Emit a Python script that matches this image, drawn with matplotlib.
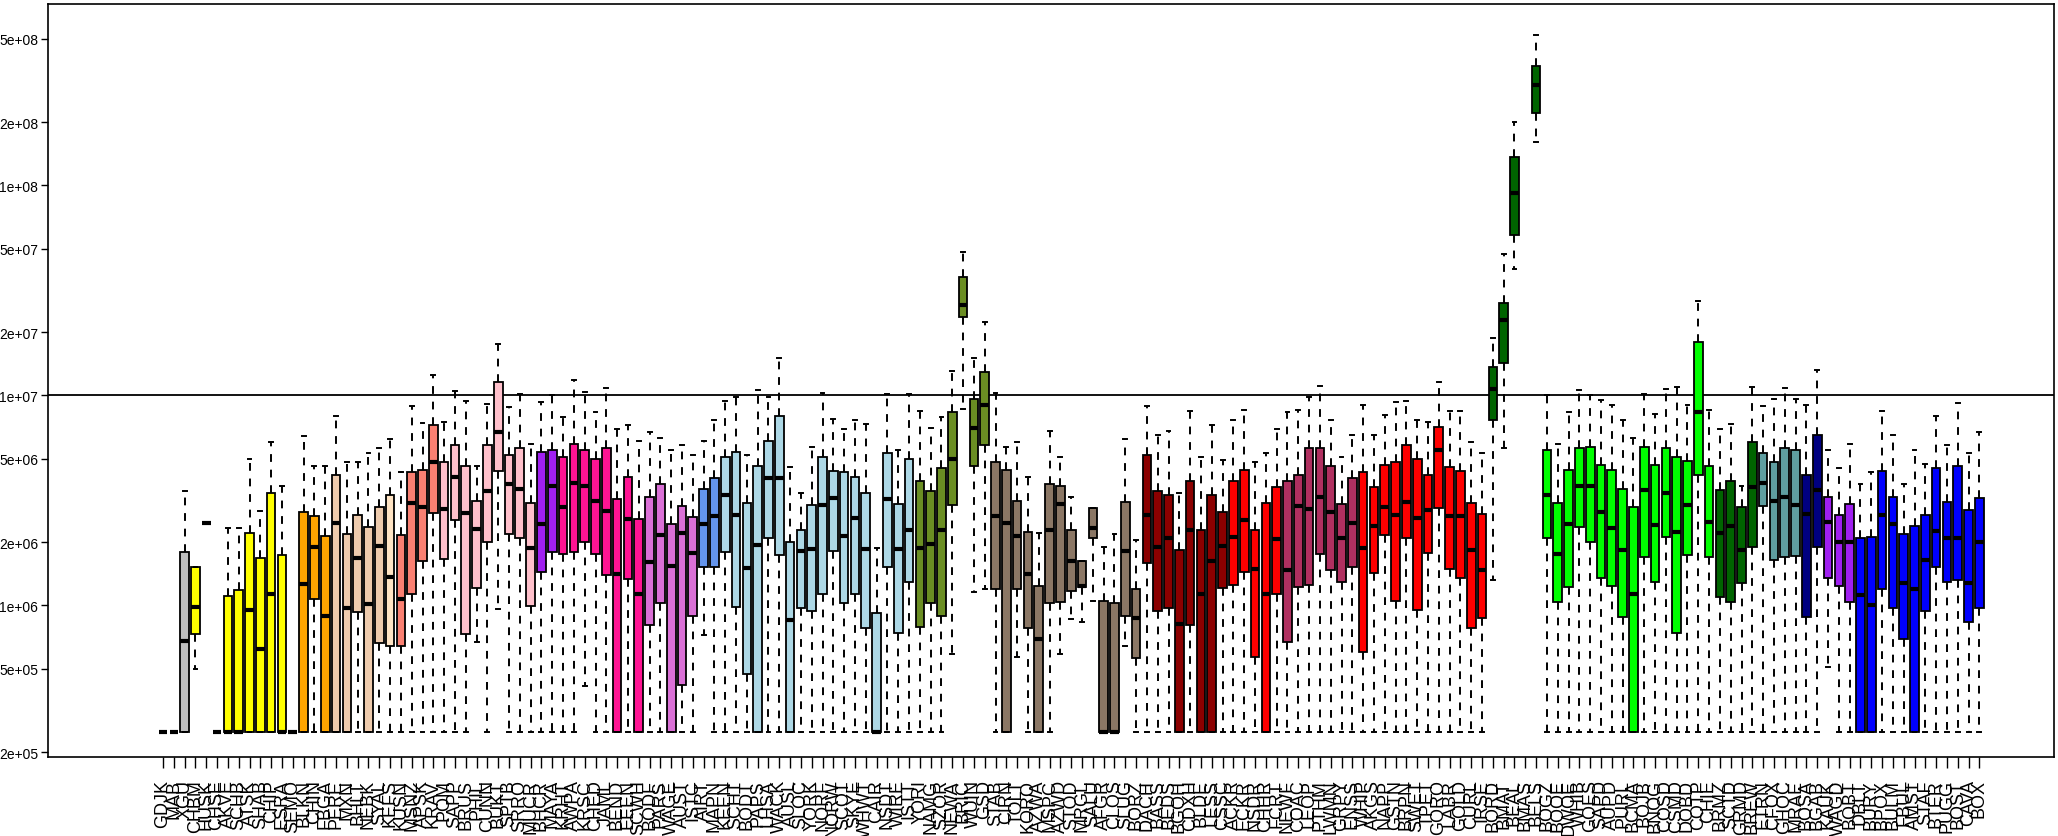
import numpy as np
import matplotlib.pyplot as plt
from matplotlib.ticker import FixedLocator, FuncFormatter, NullLocator

plt.rcParams['font.family'] = ['Liberation Sans', 'DejaVu Sans']

labels = [
    "GDJK", "MAB", "XGU", "CHBM", "HUSK", "CHSE", "AKVE", "SCHB", "ATSK", "SHAB",
    "CHIP", "ESRA", "SEMO", "BLKN", "CHIN", "FBGA", "PERE", "MXN", "BHLT", "NEBK",
    "SYAL", "KEFS", "KUSN", "MSNZ", "APSK", "KRAV", "POM", "SAPP", "BRUS", "PHIL",
    "CUNN", "BUKT", "SPTB", "SRRO", "MUCR", "BHCR", "MAYA", "KRHT", "AWPA", "KRSC",
    "CHED", "JAML", "BEND", "EEEN", "SCWH", "BODF", "PARS", "WAGE", "AUST", "ISTC",
    "AIRT", "MAPN", "KEEN", "SCHT", "BODT", "PAPS", "LHSA", "WACK", "AUSL", "SLOC",
    "YORK", "NORF", "NORW", "SCOT", "SKYE", "WHWT", "CAIR", "NSDT", "WIRE", "ISTT",
    "YORI", "NAMG", "SZOR", "NEWA", "BRIC", "WUIN", "GSD", "STAB", "CIRN", "TOLT",
    "KORO", "AZWA", "MSPC", "AZWD", "STOD", "MRGL", "SALU", "AFGR", "CLOS", "SLUG",
    "BORZ", "DACH", "BASS", "BEDS", "BGOH", "CDXH", "BLDE", "LESS", "CSSC", "ACKR",
    "ECKR", "NSDR", "CHHR", "FCRT", "NEWF", "COAC", "LEOP", "PTHM", "LWMN", "GRPY",
    "ENSS", "WHIP", "AKGS", "NAPP", "GSTN", "BRPN", "SWET", "TPET", "GORO", "LABR",
    "GOLD", "CURL", "IRSE", "BORD", "BMAT", "BEAL", "BMAS", "BELS", "BOGZ", "BOOE",
    "DWOE", "WHIB", "GOES", "SAPD", "AUPD", "PURL", "BCMA", "BOJB", "BNOG", "COSD",
    "CSMD", "DOBD", "COTP", "CHIE", "BRMZ", "SCTD", "GRMD", "BREW", "ETRN", "CFOX",
    "GHOC", "MRAE", "BOSA", "BGAB", "KAUK", "WAGD", "BOBT", "DBLT", "BURY", "BPOX",
    "BULM", "FBUL", "AMST", "STAF", "BTER", "PUGG", "BOST", "CAVA", "BOX",
]

F = 2.5e5
nan = np.nan

whislo = [
    F, F, F, 5.0e5, 2.46e6, F, F, F, F, F,
    F, F, F, F, F, F, F, F, F, F,
    F, F, F, F, F, F, F, F, F, 6.7e5,
    F, 9.6e5, F, F, F, F, F, F, F, 4.15e5,
    F, F, F, F, F, F, F, F, F, F,
    7.2e5, F, F, F, F, F, F, F, F, F,
    F, F, F, F, F, F, F, F, F, F,
    F, F, F, 5.9e5, 8.6e6, 1.16e6, 1.2e6, F, F, 5.7e5,
    F, F, F, 5.9e5, 8.6e5, 8.3e5, 1.05e6, F, F, 6.4e5,
    F, F, F, F, F, F, F, F, F, F,
    F, F, F, F, F, F, F, F, F, F,
    F, F, F, F, F, F, F, F, F, F,
    F, F, F, 1.32e6, 5.6e6, 4.0e7, nan, 1.6e8, F, F,
    F, F, F, F, F, F, F, F, F, F,
    F, F, F, F, F, F, F, F, F, F,
    F, F, F, F, 5.1e5, F, F, F, F, F,
    F, F, F, F, F, F, F, F, F,
]
q1 = [
    F, F, F, 7.3e5, 2.46e6, F, F, F, F, F,
    F, F, F, F, 1.07e6, F, F, F, 9.3e5, F,
    6.6e5, 6.4e5, 6.4e5, 1.13e6, 1.62e6, 2.75e6, 1.66e6, 2.56e6, 7.3e5, 1.21e6,
    2.0e6, 4.35e6, 2.2e6, 2.1e6, 9.9e5, 1.44e6, 1.8e6, 1.75e6, 1.8e6, 2.0e6,
    1.75e6, 1.39e6, F, 1.34e6, F, 8.1e5, 1.03e6, F, 4.2e5, 8.9e5,
    1.52e6, 1.52e6, 1.8e6, 9.8e5, 4.7e5, F, 2.1e6, 1.74e6, F, 9.7e5,
    9.4e5, 1.13e6, 1.82e6, 1.03e6, 1.13e6, 7.8e5, F, 1.53e6, 7.4e5, 1.3e6,
    7.9e5, 1.03e6, 8.9e5, 3.0e6, 2.37e7, 4.6e6, 5.8e6, 1.2e6, F, 1.2e6,
    7.8e5, F, 1.03e6, 1.04e6, 1.17e6, 1.22e6, 2.1e6, F, F, 8.9e5,
    5.6e5, 1.6e6, 9.4e5, 9.7e5, F, 8.1e5, F, F, 1.21e6, 1.25e6,
    1.44e6, 5.7e5, F, 1.14e6, 6.7e5, 1.23e6, 1.25e6, 1.76e6, 1.48e6, 1.29e6,
    1.52e6, 6.0e5, 1.43e6, 2.17e6, 1.05e6, 2.1e6, 9.5e5, 1.78e6, 2.9e6, 1.49e6,
    1.35e6, 7.8e5, 8.7e5, 7.6e6, 1.43e7, 5.8e7, nan, 2.2e8, 2.1e6, 1.04e6,
    1.22e6, 2.37e6, 2.0e6, 1.35e6, 1.24e6, 8.8e5, F, 1.71e6, 1.3e6, 2.13e6,
    7.4e5, 1.74e6, 4.2e6, 1.7e6, 1.1e6, 1.04e6, 1.28e6, 1.89e6, 2.97e6, 1.64e6,
    1.7e6, 1.72e6, 8.8e5, 1.89e6, 1.35e6, 1.24e6, 1.04e6, F, F, 1.2e6,
    9.7e5, 6.9e5, F, 9.4e5, 1.52e6, 1.3e6, 1.32e6, 8.3e5, 9.7e5,
]
med = [
    F, F, 6.8e5, 9.8e5, 2.46e6, F, F, F, 9.5e5, 6.2e5,
    1.13e6, F, F, 1.26e6, 1.89e6, 8.9e5, 2.47e6, 9.7e5, 1.69e6, 1.02e6,
    1.93e6, 1.37e6, 1.07e6, 3.08e6, 2.93e6, 4.8e6, 2.88e6, 4.1e6, 2.75e6, 2.31e6,
    3.5e6, 6.7e6, 3.8e6, 3.6e6, 1.87e6, 2.43e6, 3.7e6, 2.95e6, 3.85e6, 3.7e6,
    3.15e6, 2.83e6, 1.41e6, 2.58e6, 1.14e6, 1.61e6, 2.17e6, 1.55e6, 2.21e6, 1.78e6,
    2.45e6, 2.67e6, 3.36e6, 2.7e6, 1.5e6, 1.94e6, 4.05e6, 4.05e6, 8.5e5, 1.82e6,
    1.86e6, 3.0e6, 3.25e6, 2.15e6, 2.6e6, 1.86e6, F, 3.2e6, 1.86e6, 2.3e6,
    1.87e6, 1.97e6, 2.28e6, 5.0e6, 2.7e7, 7.0e6, 9.0e6, 2.67e6, 2.46e6, 2.15e6,
    1.41e6, 6.9e5, 2.3e6, 3.05e6, 1.62e6, 1.24e6, 2.35e6, F, F, 1.82e6,
    8.7e5, 2.7e6, 1.9e6, 2.1e6, 8.2e5, 2.3e6, 1.14e6, 1.62e6, 1.93e6, 2.13e6,
    2.55e6, 1.49e6, 1.14e6, 2.08e6, 1.48e6, 2.97e6, 2.88e6, 3.3e6, 2.8e6, 2.1e6,
    2.47e6, 1.88e6, 2.38e6, 2.95e6, 2.7e6, 3.1e6, 2.6e6, 2.85e6, 5.5e6, 2.67e6,
    2.68e6, 1.84e6, 1.48e6, 1.07e7, 2.28e7, 9.2e7, nan, 3.0e8, 3.36e6, 1.75e6,
    2.45e6, 3.7e6, 3.7e6, 2.8e6, 2.35e6, 1.84e6, 1.14e6, 3.55e6, 2.42e6, 3.45e6,
    2.23e6, 3.0e6, 8.3e6, 2.5e6, 2.21e6, 2.38e6, 1.84e6, 3.65e6, 3.85e6, 3.15e6,
    3.3e6, 3.0e6, 2.74e6, 3.55e6, 2.5e6, 2.0e6, 2.0e6, 1.12e6, 1.01e6, 2.7e6,
    2.45e6, 1.28e6, 1.2e6, 1.65e6, 2.27e6, 2.1e6, 2.1e6, 1.28e6, 2.0e6,
]
q3 = [
    F, F, 1.8e6, 1.53e6, 2.46e6, F, 1.11e6, 1.18e6, 2.21e6, 1.68e6,
    3.43e6, 1.74e6, F, 2.78e6, 2.68e6, 2.15e6, 4.2e6, 2.2e6, 2.7e6, 2.36e6,
    2.93e6, 3.36e6, 2.16e6, 4.3e6, 4.4e6, 7.2e6, 4.8e6, 5.8e6, 4.6e6, 3.15e6,
    5.8e6, 1.16e7, 5.2e6, 5.6e6, 3.07e6, 5.4e6, 5.5e6, 5.1e6, 5.9e6, 5.5e6,
    5.0e6, 5.6e6, 3.2e6, 4.1e6, 2.58e6, 3.3e6, 3.8e6, 2.44e6, 2.98e6, 2.63e6,
    3.6e6, 4.05e6, 5.1e6, 5.35e6, 3.08e6, 4.6e6, 6.1e6, 8.0e6, 2.0e6, 2.29e6,
    3.0e6, 5.1e6, 4.35e6, 4.3e6, 4.1e6, 3.45e6, 9.2e5, 5.3e6, 3.05e6, 5.0e6,
    3.9e6, 3.5e6, 4.5e6, 8.3e6, 3.66e7, 9.6e6, 1.29e7, 4.8e6, 4.4e6, 3.15e6,
    2.25e6, 1.24e6, 3.8e6, 3.7e6, 2.3e6, 1.62e6, 2.9e6, 1.05e6, 1.03e6, 3.1e6,
    1.2e6, 5.2e6, 3.5e6, 3.35e6, 1.84e6, 3.9e6, 2.29e6, 3.35e6, 2.78e6, 3.9e6,
    4.4e6, 2.29e6, 3.07e6, 3.65e6, 3.9e6, 4.2e6, 5.6e6, 5.65e6, 4.6e6, 3.05e6,
    4.05e6, 4.3e6, 3.65e6, 4.65e6, 4.8e6, 5.8e6, 5.0e6, 4.2e6, 7.1e6, 4.55e6,
    4.35e6, 3.08e6, 2.72e6, 1.37e7, 2.74e7, 1.37e8, nan, 3.7e8, 5.5e6, 3.07e6,
    4.4e6, 5.6e6, 5.7e6, 4.65e6, 4.4e6, 3.6e6, 2.93e6, 5.7e6, 4.65e6, 5.65e6,
    5.1e6, 4.9e6, 1.8e7, 4.6e6, 3.55e6, 3.9e6, 2.95e6, 6.0e6, 5.3e6, 4.8e6,
    5.65e6, 5.5e6, 4.2e6, 6.5e6, 3.3e6, 2.7e6, 3.05e6, 2.1e6, 2.13e6, 4.35e6,
    3.3e6, 2.2e6, 2.4e6, 2.7e6, 4.5e6, 3.1e6, 4.6e6, 2.85e6, 3.25e6,
]
whishi = [
    F, F, 3.5e6, 1.53e6, 2.46e6, F, 2.34e6, 2.34e6, 5.0e6, 2.83e6,
    6.0e6, 3.7e6, F, 6.4e6, 4.6e6, 4.6e6, 8.0e6, 4.8e6, 4.8e6, 5.3e6,
    5.6e6, 6.2e6, 4.3e6, 8.9e6, 7.4e6, 1.25e7, 7.5e6, 1.05e7, 9.4e6, 4.6e6,
    9.1e6, 1.76e7, 8.8e6, 1.02e7, 5.9e6, 9.3e6, 1.0e7, 7.9e6, 1.19e7, 1.04e7,
    8.3e6, 1.08e7, 6.9e6, 7.2e6, 6.1e6, 6.7e6, 6.3e6, 5.5e6, 5.8e6, 5.2e6,
    6.1e6, 7.6e6, 9.4e6, 9.8e6, 5.2e6, 1.06e7, 9.8e6, 1.5e7, 4.55e6, 3.45e6,
    5.7e6, 1.03e7, 7.7e6, 6.9e6, 7.6e6, 7.3e6, 1.88e6, 1.02e7, 5.5e6, 1.02e7,
    8.4e6, 7.0e6, 7.9e6, 1.3e7, 4.8e7, 1.5e7, 2.24e7, 1.03e7, 5.7e6, 6.0e6,
    4.1e6, 2.21e6, 6.8e6, 5.1e6, 3.3e6, 1.62e6, 2.9e6, 1.9e6, 2.2e6, 6.2e6,
    2.05e6, 8.9e6, 6.5e6, 6.8e6, 3.45e6, 8.4e6, 5.1e6, 7.2e6, 4.95e6, 7.6e6,
    8.5e6, 4.8e6, 5.3e6, 6.9e6, 8.3e6, 8.5e6, 9.8e6, 1.11e7, 7.6e6, 5.1e6,
    6.5e6, 9.0e6, 6.5e6, 8.1e6, 9.3e6, 9.4e6, 7.6e6, 7.5e6, 1.16e7, 8.4e6,
    8.4e6, 6.0e6, 5.3e6, 1.88e7, 4.7e7, 2.0e8, nan, 5.2e8, 1.0e7, 5.9e6,
    8.3e6, 1.06e7, 1.0e7, 9.5e6, 9.0e6, 7.6e6, 6.3e6, 1.02e7, 8.2e6, 1.07e7,
    1.1e7, 9.0e6, 2.8e7, 8.5e6, 6.9e6, 7.3e6, 3.7e6, 1.1e7, 8.9e6, 9.6e6,
    1.08e7, 9.6e6, 9.0e6, 1.32e7, 5.5e6, 4.5e6, 5.9e6, 3.8e6, 4.3e6, 8.4e6,
    6.5e6, 3.8e6, 5.5e6, 4.7e6, 8.0e6, 5.8e6, 9.2e6, 5.3e6, 6.7e6,
]

# clade colours, as (colour, number of consecutive breeds)
groups = [
    ("#BEBEBE", 3), ("#FFFF00", 1), ("#BEBEBE", 1), ("#FFFF00", 7), ("#FFA500", 4),
    ("#EECBAD", 5), ("#FFE4C4", 1), ("#FA8072", 4), ("#FFC0CB", 9), ("#A020F0", 2),
    ("#FF1493", 8), ("#DA70D6", 5), ("#6495ED", 2), ("#ADD8E6", 18), ("#6B8E23", 7),
    ("#8B7765", 14), ("#8B0000", 8), ("#FF0000", 5), ("#B03060", 7), ("#FF0000", 12),
    ("#006400", 5), ("#00FF00", 16), ("#006400", 4), ("#5F9EA0", 4), ("#000080", 2),
    ("#A020F0", 3), ("#0000FF", 12),
]
box_colors = []
for c, n in groups:
    box_colors += [c] * n

yticks = [5e8, 2e8, 1e8, 5e7, 2e7, 1e7, 5e6, 2e6, 1e6, 5e5, 2e5]

stats, pos, cols = [], [], []
for i in range(len(labels)):
    if np.isnan(med[i]):
        continue
    stats.append(dict(whislo=whislo[i], q1=q1[i], med=med[i], q3=q3[i],
                      whishi=whishi[i], fliers=[]))
    pos.append(i + 1)
    cols.append(box_colors[i])

fig = plt.figure(figsize=(20.58, 8.37), dpi=100)
ax = fig.add_axes([48 / 2058, 79 / 837, (2054 - 48) / 2058, (832 - 79) / 837])
ax.set_yscale('log')

bp = ax.bxp(stats, positions=pos, widths=0.8, patch_artist=True, showfliers=False,
            capwidths=0.36,
            boxprops=dict(edgecolor='black', linewidth=1.3),
            medianprops=dict(color='black', linewidth=3, solid_capstyle='butt'),
            whiskerprops=dict(color='black', linestyle=(0, (4, 4)), linewidth=1.4),
            capprops=dict(color='black', linewidth=1.4))
for patch, c in zip(bp['boxes'], cols):
    patch.set_facecolor(c)

ax.axhline(1e7, color='black', linewidth=1.3, zorder=0)

ax.set_xlim(-9.64, 175.9)
ax.set_ylim(1.9e5, 7.3e8)
ax.yaxis.set_major_locator(FixedLocator(yticks))
ax.yaxis.set_minor_locator(NullLocator())
ax.yaxis.set_major_formatter(FuncFormatter(lambda v, p: f"{v:.0e}"))
ax.set_xticks(range(1, len(labels) + 1))
ax.set_xticklabels(labels, rotation=90, fontsize=13)
ax.tick_params(axis='x', length=8, width=1, pad=8)
ax.tick_params(axis='y', length=5, width=1, pad=2, labelsize=10)
for s in ax.spines.values():
    s.set_linewidth(1.2)

fig.savefig("out.png", dpi=100)
